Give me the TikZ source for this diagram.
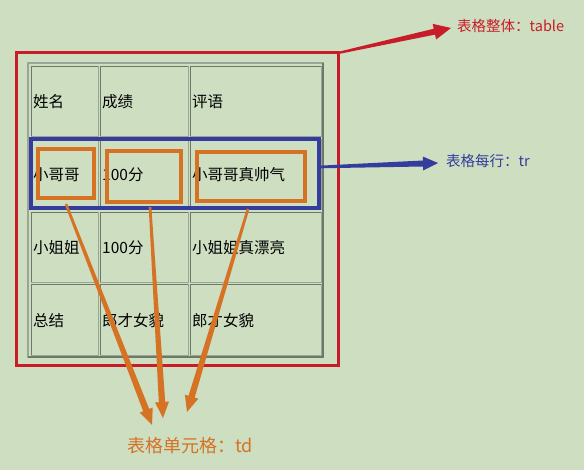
\documentclass[tikz,border=0pt]{standalone}
\usepackage{fontspec}
\setmainfont{Noto Sans CJK SC}
\usetikzlibrary{calc}
\definecolor{bg}{RGB}{205,222,193}
\definecolor{tred}{RGB}{200,28,40}
\definecolor{tblue}{RGB}{52,60,158}
\definecolor{torange}{RGB}{214,114,36}
\definecolor{gdark}{RGB}{110,120,105}
\definecolor{glight}{RGB}{155,165,150}
\newcommand\taperarrow[7]{%
  \coordinate (ta-b) at ($(#2)!#6!(#1)$);
  \fill[#3] ($(#1)!#4!90:(#2)$) -- ($(ta-b)!#5!-90:(#1)$) -- ($(ta-b)!#7!-90:(#1)$) -- (#2)
    -- ($(ta-b)!#7!90:(#1)$) -- ($(ta-b)!#5!90:(#1)$) -- ($(#1)!#4!-90:(#2)$) -- cycle;
}
\tikzset{
  celltext/.style={anchor=west,inner sep=0pt,font=\fontsize{15.5}{17}\selectfont,text=black},
  redbox/.style={draw=tred,line width=3pt},
  bluebox/.style={draw=tblue,line width=3.2pt},
  orangebox/.style={draw=torange,line width=3.2pt},
}
\begin{document}
\begin{tikzpicture}[x=1pt,y=-1pt]
\fill[bg] (0,0) rectangle (584,470);
\useasboundingbox (0,0) rectangle (584,470);
% outer table border
\draw[glight,line width=1.2pt] (28,63) rectangle (323,357);
\draw[gdark,line width=1.2pt] (28,357) -- (323,357) -- (323,63);
% cells
\foreach \xa/\xb [count=\c] in {31/98,100/188,190/321}{
  \foreach \ya/\yb [count=\r] in {66/136,139/209,212/282,284/355}{
    \draw[glight,line width=0.9pt] (\xa,\ya) rectangle (\xb,\yb);
    \draw[gdark,line width=0.9pt] (\xa,\yb) -- (\xa,\ya) -- (\xb,\ya);
  }
}
% texts
\node[celltext] (t11) at (33,102) {姓名};
\node[celltext] (t12) at (102,102) {成绩};
\node[celltext] (t13) at (192,102) {评语};
\node[celltext] (t21) at (33,175) {小哥哥};
\node[celltext] (t22) at (102,175) {100分};
\node[celltext] (t23) at (192,175) {小哥哥真帅气};
\node[celltext] (t31) at (33,248) {小姐姐};
\node[celltext] (t32) at (102,248) {100分};
\node[celltext] (t33) at (192,248) {小姐姐真漂亮};
\node[celltext] (t41) at (33,321) {总结};
\node[celltext] (t42) at (102,321) {郎才女貌};
\node[celltext] (t43) at (192,321) {郎才女貌};
% highlight boxes
\draw[redbox] (16,53) rectangle (338,366);
\draw[bluebox] (31,139) rectangle (319,208);
\draw[orangebox] (38,149) rectangle (94,198);
\draw[orangebox] (107,151) rectangle (181,202);
\draw[orangebox] (197,152) rectangle (305,201);
% labels
\node[anchor=west,inner sep=0pt,text=tred,font=\fontsize{14.5}{16}\selectfont] (ltable) at (457,26) {表格整体：table};
\node[anchor=west,inner sep=0pt,text=tblue,font=\fontsize{14.5}{16}\selectfont] (ltr) at (446,161) {表格每行：tr};
\node[inner sep=0pt,text=torange,font=\fontsize{18}{20}\selectfont] (ltd) at (190,446) {表格单元格：td};
% arrow coordinates
\coordinate (rs) at (338,53);
\coordinate (rt) at (451,28);
\coordinate (bs) at (319,167);
\coordinate (bt) at (438,163);
\coordinate (o1s) at (66,204);
\coordinate (o1t) at (152,425);
\coordinate (o2s) at (150,207);
\coordinate (o2t) at (163,418);
\coordinate (o3s) at (248,209);
\coordinate (o3t) at (187,412);
% arrows
\taperarrow{rs}{rt}{tred}{1.1pt}{3pt}{17pt}{8pt}
\taperarrow{bs}{bt}{tblue}{1.3pt}{3pt}{15pt}{7pt}
\taperarrow{o1s}{o1t}{torange}{1.3pt}{3.2pt}{16pt}{7pt}
\taperarrow{o2s}{o2t}{torange}{1.3pt}{3.2pt}{16pt}{7pt}
\taperarrow{o3s}{o3t}{torange}{1.3pt}{3.2pt}{16pt}{7pt}
\end{tikzpicture}
\end{document}
